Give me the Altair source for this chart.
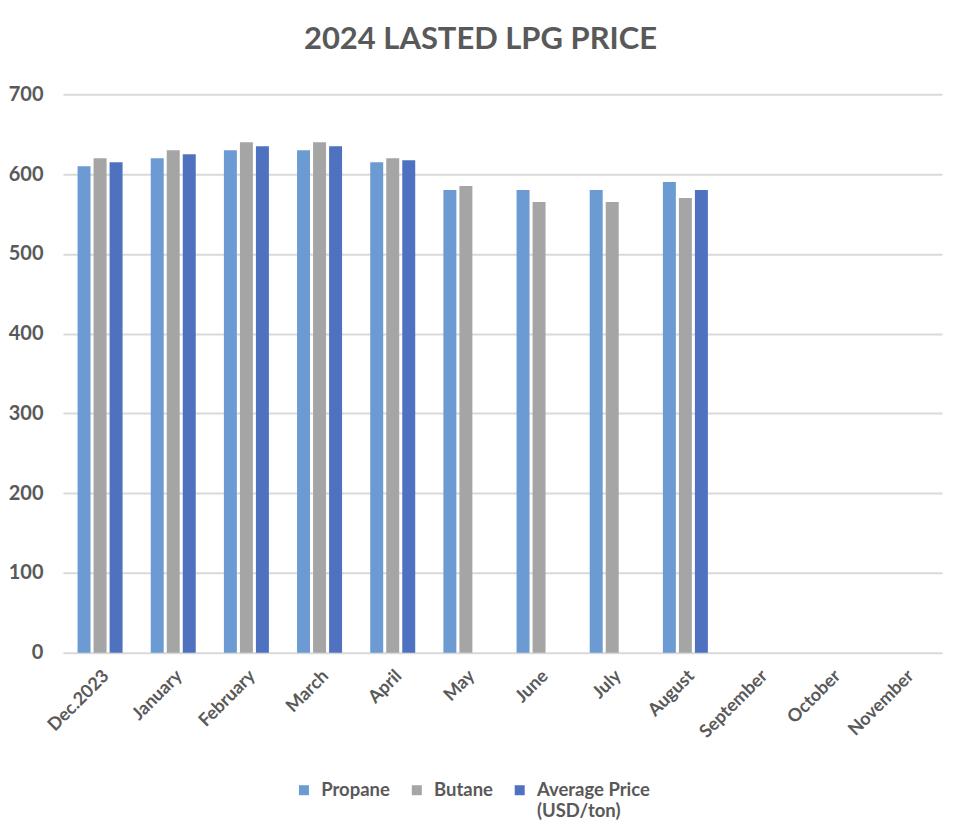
import altair as alt
import pandas as pd

months = ["Dec.2023", "January", "February", "March", "April", "May", "June",
          "July", "August", "September", "October", "November"]
series = ["Propane", "Butane", "Average Price (USD/ton)"]
propane = [610, 620, 630, 630, 615, 580, 580, 580, 590]
butane = [620, 630, 640, 640, 620, 585, 565, 565, 570]
average = [615, 625, 635, 635, 617.5, None, None, None, 580]
colors = ["#6b9bd2", "#a5a5a5", "#4f72c0"]

rows = []
for vals, s in zip([propane, butane, average], series):
    for m, v in zip(months, vals):
        if v is not None:
            rows.append({"month": m, "series": s, "value": v})
df = pd.DataFrame(rows)

FONT = "Lato"
GRAY = "#595959"

label_expr = ("datum.label == 'Average Price (USD/ton)' ? ['Average Price', '(USD/ton)']"
              " : [datum.label, '']")

chart = alt.Chart(df).mark_bar().encode(
    x=alt.X("month:N", sort=months,
            scale=alt.Scale(domain=months, paddingInner=0.385, paddingOuter=0.2),
            axis=alt.Axis(title=None, labelAngle=-45, labelFontSize=18,
                          labelFontWeight="bold", labelColor=GRAY, labelFont=FONT,
                          domain=False, ticks=False, labelPadding=14)),
    xOffset=alt.XOffset("series:N", sort=series,
                        scale=alt.Scale(domain=series, paddingInner=0.19)),
    y=alt.Y("value:Q",
            scale=alt.Scale(domain=[0, 700]),
            axis=alt.Axis(title=None, values=[0, 100, 200, 300, 400, 500, 600, 700],
                          labelFontSize=20, labelFontWeight="bold", labelColor=GRAY,
                          labelFont=FONT, domain=False, ticks=False, labelPadding=20,
                          gridColor="#d9d9d9", gridWidth=2)),
    color=alt.Color("series:N", sort=series,
                    scale=alt.Scale(domain=series, range=colors),
                    legend=alt.Legend(title=None, orient="none", direction="horizontal",
                                      legendX=232, legendY=687,
                                      symbolType="square", symbolSize=100,
                                      symbolStrokeWidth=0,
                                      labelFont=FONT, labelFontSize=18.5,
                                      labelFontWeight="bold", labelColor=GRAY,
                                      labelOffset=8, columnPadding=17,
                                      labelLimit=300,
                                      labelExpr=label_expr)),
).properties(
    width=880, height=559,
    title=alt.Title("2024 LASTED LPG PRICE", font=FONT, fontSize=31,
                    fontWeight="bold", color=GRAY, anchor="middle", dx=-22, offset=28),
    autosize=alt.AutoSizeParams(type="none"),
    padding={"left": 55, "top": 86, "right": 10, "bottom": 175},
).configure_view(stroke=None)

chart.save("out.html", embed_options={"renderer": "svg", "actions": False})
